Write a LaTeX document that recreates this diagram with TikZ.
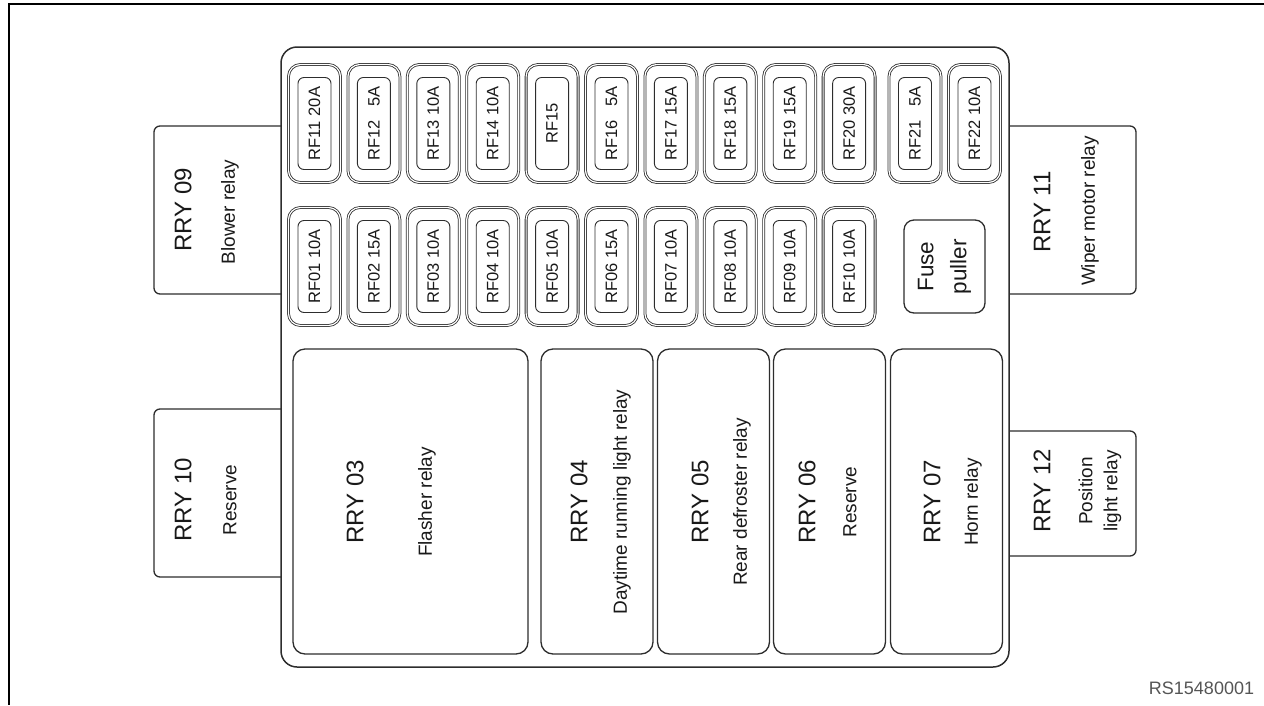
\documentclass[tikz,border=0pt]{standalone}
\usepackage{fontspec}
\setmainfont{Liberation Sans}
\usetikzlibrary{positioning}
\definecolor{lineink}{RGB}{45,45,45}
\definecolor{textink}{RGB}{25,25,25}
\definecolor{codegray}{RGB}{85,85,85}

\begin{document}
\begin{tikzpicture}[x=1pt,y=-1pt,
    frame/.style={draw=black,line width=1.3pt},
    housing/.style={draw=lineink,line width=1.5pt,rounded corners=16pt,
      minimum width=728pt,minimum height=620pt,inner sep=0pt},
    tab/.style={draw=lineink,line width=1.3pt,rounded corners=6pt},
    fuse/.style={draw=lineink,line width=0.8pt,double=white,double distance=1.2pt,
      rounded corners=12pt,rotate=90,minimum width=118pt,minimum height=52pt,inner sep=0pt},
    fusecore/.style={draw=lineink,line width=0.9pt,rounded corners=6pt,rotate=90,
      minimum width=92pt,minimum height=33pt,inner sep=0pt,text=textink,
      font=\fontsize{16.5}{19}\selectfont},
    relaybox/.style={draw=lineink,line width=1.3pt,rounded corners=12pt,inner sep=0pt,
      minimum height=305pt},
    rlabel/.style={rotate=90,text=textink,inner sep=0pt,font=\fontsize{24}{28}\selectfont},
    rdesc/.style={rotate=90,text=textink,inner sep=0pt,align=center,
      font=\fontsize{19}{25}\selectfont}]
  \useasboundingbox (0,0) rectangle (1264,705);
  % outer frame
  \draw[frame] (1264,4) -- (9,4) -- (9,705);
  % relay tabs on both sides of the housing
  \draw[tab] (281,126) -| (154,294) -- (281,294);
  \draw[tab] (281,409) -| (154,577) -- (281,577);
  \draw[tab] (1009,126) -| (1136,294) -- (1009,294);
  \draw[tab] (1009,431) -| (1136,556) -- (1009,556);
  \node[housing] (box) at (645,357) {};
  \node[rlabel] (r09n) at (183,210) {RRY 09};
  \node[rdesc] (r09d) at (230,212) {Blower relay};
  \node[rlabel] (r10n) at (183,500) {RRY 10};
  \node[rdesc] (r10d) at (230,500) {Reserve};
  \node[rlabel] (r11n) at (1042,212) {RRY 11};
  \node[rdesc] (r11d) at (1090,211) {Wiper motor relay};
  \node[rlabel] (r12n) at (1042,491) {RRY 12};
  \node[rdesc] (r12d) at (1100,491) {Position\\light relay};
  % fuses, upper row
  \foreach \lbl [count=\i from 0] in {RF11 20A,RF12\hphantom{0} 5A,RF13 10A,RF14 10A,RF15,
      RF16\hphantom{0} 5A,RF17 15A,RF18 15A,RF19 15A,RF20 30A}{
    \node[fuse] (up\i) at (314.5+59.4*\i,123.5) {};
    \node[fusecore] (upc\i) at (up\i) {\lbl};
  }
  \node[fuse] (up10) at (915,123.5) {};
  \node[fusecore] (upc10) at (up10) {RF21\hphantom{0} 5A};
  \node[fuse] (up11) at (974.5,123.5) {};
  \node[fusecore] (upc11) at (up11) {RF22 10A};
  % fuses, lower row
  \foreach \lbl [count=\i from 0] in {RF01 10A,RF02 15A,RF03 10A,RF04 10A,RF05 10A,
      RF06 15A,RF07 10A,RF08 10A,RF09 10A,RF10 10A}{
    \node[fuse] (lo\i) at (314.5+59.4*\i,266.5) {};
    \node[fusecore] (loc\i) at (lo\i) {\lbl};
  }
  \node[draw=lineink,line width=1.3pt,rounded corners=10pt,minimum width=81pt,
    minimum height=93pt] (puller) at (944.5,266.5) {};
  \node[rotate=90,align=center,text=textink,font=\fontsize{22.5}{33}\selectfont]
    (pullert) at (puller) {Fuse\\puller};
  % relays in the lower half
  \node[relaybox,minimum width=235pt] (r03) at (410.5,501.5) {};
  \node[rlabel] (r03n) at (355,502) {RRY 03};
  \node[rdesc] (r03d) at (427,502) {Flasher relay};
  \foreach \cx/\num/\desc/\nx/\dx in {597/04/Daytime running light relay/579/622,
      713.5/05/Rear defroster relay/700/742,829.5/06/Reserve/807/850,
      946.5/07/Horn relay/932/973}{
    \node[relaybox,minimum width=112pt] (r\num) at (\cx,501.5) {};
    \node[rlabel] (r\num n) at (\nx,502) {RRY \num};
    \node[rdesc] (r\num d) at (\dx,502) {\desc};
  }
  \node[text=codegray,font=\fontsize{18}{21}\selectfont] (code) at (1201.5,688) {RS15480001};
\end{tikzpicture}
\end{document}
